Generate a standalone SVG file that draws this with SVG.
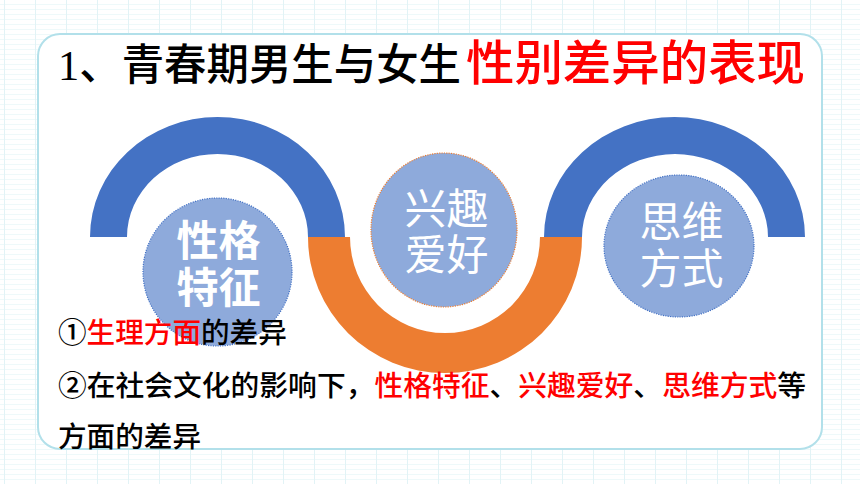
<svg xmlns="http://www.w3.org/2000/svg" width="860" height="484" viewBox="0 0 860 484">
<defs>
<pattern id="grid" x="4" y="0" width="31" height="5" patternUnits="userSpaceOnUse">
<rect width="31" height="5" fill="#ffffff"/>
<line x1="0" y1="4.5" x2="31" y2="4.5" stroke="#eef9fa" stroke-width="1"/>
<line x1="0.5" y1="0" x2="0.5" y2="5" stroke="#e2f3f6" stroke-width="1"/>
</pattern>
<style>
.title{font-family:"Liberation Serif","Noto Sans CJK SC",serif;font-weight:500;}
.cjk{font-family:"Noto Sans CJK SC",sans-serif;font-weight:500;}
.blk{fill:#000000;}
.red{fill:#ff0000;}
.blue{fill:#4472c4;}
.orange{fill:#ed7d31;}
.bub{fill:#8eaadb;stroke-width:1.2;stroke-dasharray:1.2 1.2;}
.ctext{font-family:"Noto Sans CJK SC",sans-serif;fill:#ffffff;font-size:42px;text-anchor:middle;}
.body{font-family:"Noto Sans CJK SC",sans-serif;font-size:28.6px;fill:#000000;font-weight:500;}
</style>
</defs>
<rect width="860" height="484" fill="url(#grid)"/>
<rect id="card" x="38" y="34" width="784" height="415" rx="22" fill="#ffffff" stroke="#b2e0ea" stroke-width="2"/>

<g id="title">
<text class="title blk" x="58" y="80" font-size="43" textLength="403" lengthAdjust="spacingAndGlyphs">1、青春期男生与女生</text>
<text class="cjk red" x="466" y="80" font-size="48" textLength="339" lengthAdjust="spacingAndGlyphs">性别差异的表现</text>
</g>

<g id="connectors">
<path class="blue" d="M 90 237 A 127.5 120 0 0 1 345 237 L 308 237 A 90.5 83 0 0 0 127 237 Z"/>
<path class="blue" d="M 544 237 A 130.5 120 0 0 1 805 237 L 768 237 A 93 83 0 0 0 582 237 Z"/>
<path class="orange" d="M 308 237 A 137 136 0 0 0 582 237 L 540 237 A 95 96 0 0 1 350 237 Z"/>
</g>

<g id="node-xingge">
<ellipse class="bub" cx="217.5" cy="272" rx="74.5" ry="74" stroke="#4472c4"/>
<text class="ctext" font-weight="bold"><tspan x="218.5" y="256">性格</tspan><tspan x="218.5" y="303">特征</tspan></text>
</g>

<g id="node-xingqu">
<ellipse class="bub" cx="444" cy="230" rx="73" ry="77" stroke="#ed7d31"/>
<text class="ctext"><tspan x="446.5" y="224">兴趣</tspan><tspan x="446.5" y="270">爱好</tspan></text>
</g>

<g id="node-siwei">
<ellipse class="bub" cx="679" cy="246" rx="75" ry="71" stroke="#4472c4"/>
<text class="ctext"><tspan x="681.5" y="237">思维</tspan><tspan x="681.5" y="284">方式</tspan></text>
</g>

<g id="body">
<text class="body" x="58" y="343">①<tspan class="red">生理方面</tspan>的差异</text>
<text class="body" x="58" y="396" textLength="748" lengthAdjust="spacingAndGlyphs">②在社会文化的影响下，<tspan class="red">性格特征</tspan>、<tspan class="red">兴趣爱好</tspan>、<tspan class="red">思维方式</tspan>等</text>
<text class="body" x="58" y="447">方面的差异</text>
</g>
</svg>
